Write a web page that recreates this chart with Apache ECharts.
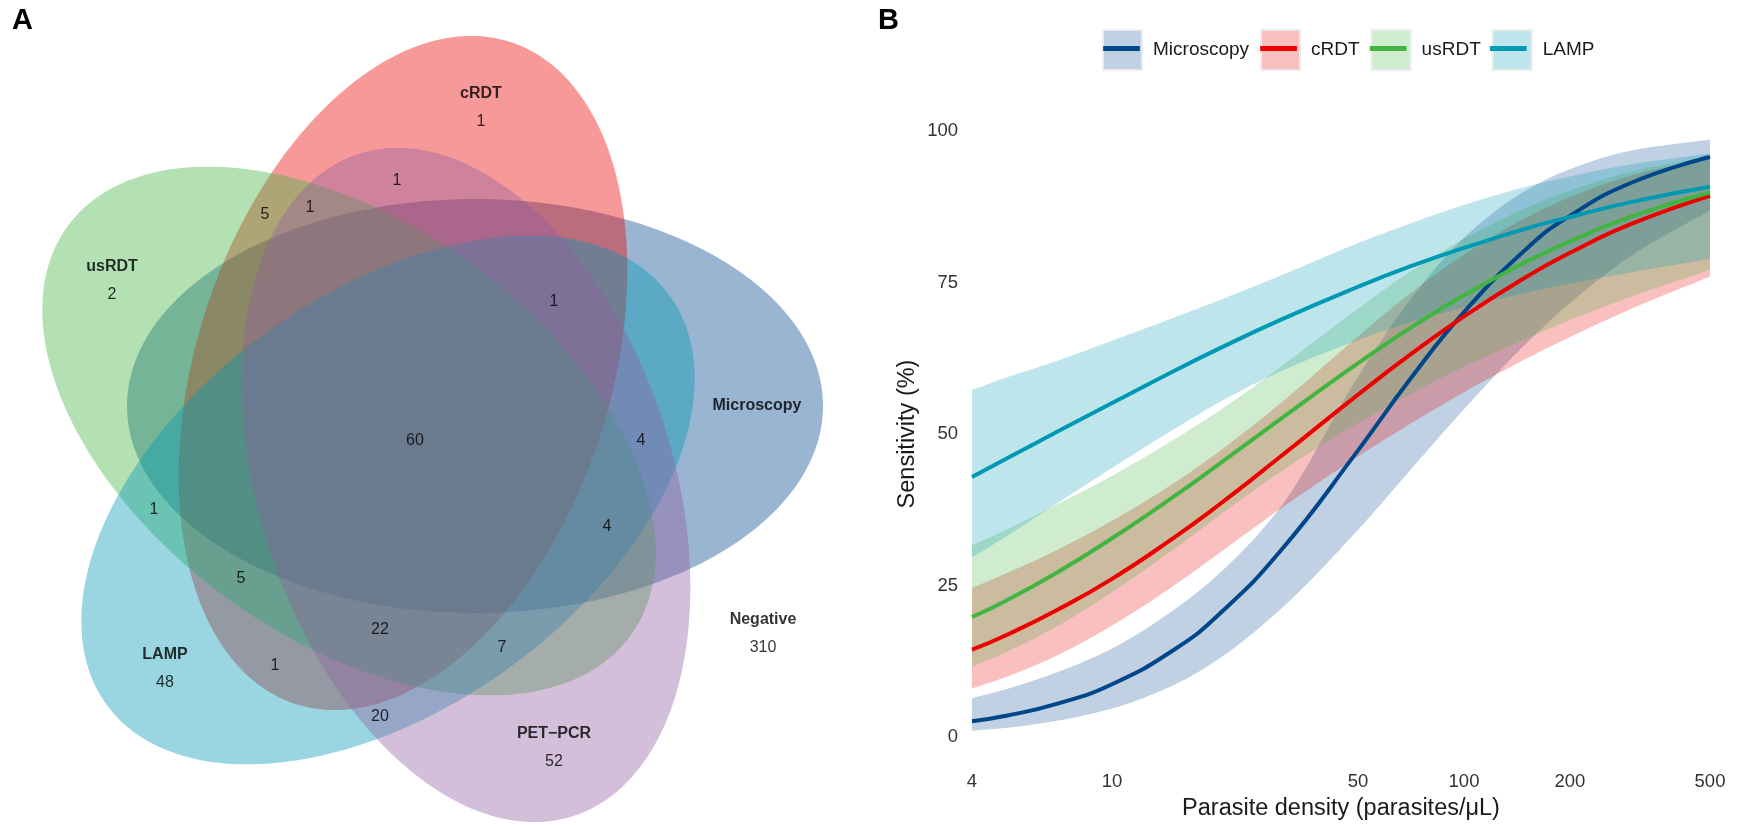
<!DOCTYPE html>
<html><head><meta charset="utf-8">
<script src="https://cdn.jsdelivr.net/npm/echarts/dist/echarts.min.js"></script>
<style>html,body{margin:0;padding:0;background:#fff}#c{width:1742px;height:825px}</style>
</head><body><div id="c"></div>
<script>
// ---------- Panel A: five-set Venn diagram ----------
const vennSets = ['Microscopy', 'cRDT', 'usRDT', 'LAMP', 'PET\u2212PCR'];
const vennColors = ['#00468B', '#ED0000', '#42B540', '#0099B4', '#925E9F'];
const ellipseCenters = [[475, 406], [403, 373], [349, 431], [388, 500], [466, 485]];
const ellipseAngles = [0, 72, 144, 216, 288];
const ellipseSemiAxes = [348, 207];
const setNames = ['Microscopy', 'cRDT', 'usRDT', 'LAMP', 'PET\u2212PCR', 'Negative'];
const setNamePos = [[757, 406], [481, 94], [112, 267], [165, 655], [554, 734], [763, 620]];
const regionCounts = [1, 2, 48, 52, 310, 60, 1, 5, 1, 1, 4, 4, 7, 22, 20, 1, 5, 1];
const regionPos = [[481, 122], [112, 295], [165, 683], [554, 762], [763, 648], [415, 441], [397, 181], [265, 215], [310, 208], [554, 302], [641, 441], [607, 527], [502, 648], [380, 630], [380, 717], [275, 666], [241, 579], [154, 510]];

// ---------- Panel B: sensitivity curves ----------
const density = [4, 5, 7, 10, 15, 20, 30, 50, 70, 100, 150, 200, 300, 500];
const methods = ['Microscopy', 'cRDT', 'usRDT', 'LAMP'];
const microFit   = [2.6, 3.5, 5.5, 8.7, 14.4, 20.1, 30.6, 47.3, 58.9, 70.1, 80.5, 86.0, 91.5, 95.7];
const microLower = [1.05, 1.5, 2.7, 4.7, 8.6, 12.8, 21.0, 34.2, 43.9, 54.1, 64.9, 71.6, 79.5, 86.9];
const microUpper = [6.4, 7.9, 10.7, 14.6, 21.0, 26.8, 37.8, 59.5, 72.0, 82.4, 90.2, 93.7, 96.8, 98.6];
const crdtFit   = [14.4, 16.8, 21.0, 26.1, 32.9, 38.2, 46.2, 56.5, 63.0, 69.4, 75.9, 79.9, 84.7, 89.3];
const crdtLower = [8.0, 9.9, 13.5, 18.4, 25.0, 30.2, 37.6, 46.3, 51.6, 56.9, 62.4, 66.0, 70.7, 76.0];
const crdtUpper = [24.6, 27.0, 30.9, 35.7, 41.9, 47.0, 55.0, 66.1, 73.1, 79.6, 85.7, 89.1, 92.7, 95.6];
const usrdtFit   = [19.8, 22.5, 27.2, 32.8, 39.7, 44.9, 52.4, 61.7, 67.4, 72.9, 78.4, 81.8, 85.9, 89.9];
const usrdtLower = [11.6, 14.0, 18.3, 23.9, 31.0, 36.4, 43.7, 51.8, 56.5, 61.1, 65.7, 68.8, 72.7, 77.1];
const usrdtUpper = [31.6, 34.2, 38.4, 43.1, 49.1, 53.7, 61.0, 70.7, 76.7, 82.2, 87.3, 90.2, 93.3, 95.9];
const lampFit   = [42.9, 45.9, 50.4, 55.1, 60.4, 64.0, 68.8, 74.3, 77.6, 80.7, 83.9, 85.8, 88.3, 90.8];
const lampLower = [29.6, 33.1, 38.6, 44.4, 50.8, 55.1, 60.3, 65.5, 68.4, 70.9, 73.3, 74.8, 76.7, 78.9];
const lampUpper = [57.3, 59.3, 62.1, 65.4, 69.2, 72.0, 76.1, 81.5, 84.7, 87.8, 90.8, 92.5, 94.5, 96.3];
const xTickValues = [4, 10, 50, 100, 200, 500];
const yTickValues = [0, 25, 50, 75, 100];

const lineColors = ['#00468B', '#ED0000', '#42B540', '#0099B4'];
const bandColors = ['rgba(0,70,139,0.25)', 'rgba(237,0,0,0.25)', 'rgba(66,181,64,0.25)', 'rgba(0,153,180,0.25)'];
const fits = [microFit, crdtFit, usrdtFit, lampFit];
const lowers = [microLower, crdtLower, usrdtLower, lampLower];
const uppers = [microUpper, crdtUpper, usrdtUpper, lampUpper];

const FONT = 'Liberation Sans, Arial, Helvetica, sans-serif';
const chart = echarts.init(document.getElementById('c'), null, {renderer: 'canvas'});

// monotone cubic smoothing of an already-projected pixel polyline (rendering only)
function smoothPixels(pts, n) {
  const N = pts.length, xs = pts.map(p => p[0]), ys = pts.map(p => p[1]);
  const d = [], m = new Array(N);
  for (let i = 0; i < N - 1; i++) d.push((ys[i + 1] - ys[i]) / (xs[i + 1] - xs[i]));
  m[0] = d[0]; m[N - 1] = d[N - 2];
  for (let i = 1; i < N - 1; i++) {
    if (d[i - 1] * d[i] <= 0) { m[i] = 0; continue; }
    const h0 = xs[i] - xs[i - 1], h1 = xs[i + 1] - xs[i];
    const w1 = 2 * h1 + h0, w2 = h1 + 2 * h0;
    m[i] = (w1 + w2) / (w1 / d[i - 1] + w2 / d[i]);
  }
  const out = [];
  for (let i = 0; i < N - 1; i++) {
    const h = xs[i + 1] - xs[i];
    for (let s = 0; s < n; s++) {
      const t = s / n, t2 = t * t, t3 = t2 * t;
      const h00 = 2 * t3 - 3 * t2 + 1, h10 = t3 - 2 * t2 + t, h01 = -2 * t3 + 3 * t2, h11 = t3 - t2;
      out.push([xs[i] + t * h, h00 * ys[i] + h10 * h * m[i] + h01 * ys[i + 1] + h11 * h * m[i + 1]]);
    }
  }
  out.push(pts[N - 1]);
  return out;
}

const series = [];
// Venn ellipses
series.push({
  type: 'custom', xAxisIndex: 0, yAxisIndex: 0, silent: true, clip: false,
  data: vennSets.map((n, i) => ({name: n, value: ellipseCenters[i]})),
  renderItem: function (params, api) {
    const i = params.dataIndex;
    const c = ellipseCenters[i];
    const phi = ellipseAngles[i] * Math.PI / 180;
    const A = ellipseSemiAxes[0], B = ellipseSemiAxes[1];
    const ux = Math.cos(phi), uy = -Math.sin(phi), vx = Math.sin(phi), vy = Math.cos(phi);
    const pts = [];
    for (let k = 0; k < 240; k++) {
      const t = k / 240 * 2 * Math.PI;
      const px = c[0] + A * Math.cos(t) * ux + B * Math.sin(t) * vx;
      const py = c[1] + A * Math.cos(t) * uy + B * Math.sin(t) * vy;
      pts.push(api.coord([px, py]));
    }
    return {type: 'polygon', shape: {points: pts}, style: {fill: vennColors[i], opacity: 0.4}};
  }
});
// Venn set names
series.push({
  type: 'scatter', xAxisIndex: 0, yAxisIndex: 0, silent: true, symbolSize: 1,
  itemStyle: {color: 'rgba(0,0,0,0)'}, z: 5,
  data: setNames.map((n, i) => ({name: n, value: setNamePos[i]})),
  label: {show: true, position: 'inside', formatter: '{b}', color: '#000',
    fontFamily: FONT, fontSize: 16, fontWeight: 'bold'}
});
// Venn region counts
series.push({
  type: 'scatter', xAxisIndex: 0, yAxisIndex: 0, silent: true, symbolSize: 1,
  itemStyle: {color: 'rgba(0,0,0,0)'}, z: 5,
  data: regionCounts.map((v, i) => ({name: String(v), value: regionPos[i]})),
  label: {show: true, position: 'inside', formatter: '{b}', color: '#000',
    fontFamily: FONT, fontSize: 16}
});

// Panel B confidence ribbons
methods.forEach((m, j) => {
  series.push({
    type: 'custom', name: m, xAxisIndex: 1, yAxisIndex: 1, silent: true, z: 1,
    itemStyle: {color: bandColors[j]},
    data: [[density[0], lowers[j][0]]],
    renderItem: function (params, api) {
      const up = smoothPixels(density.map((d, i) => api.coord([d, uppers[j][i]])), 16);
      const lo = smoothPixels(density.map((d, i) => api.coord([d, lowers[j][i]])), 16);
      return {type: 'polygon', shape: {points: up.concat(lo.reverse())},
        style: {fill: bandColors[j]}};
    }
  });
});
// Panel B fitted lines
methods.forEach((m, j) => {
  series.push({
    type: 'line', name: m, xAxisIndex: 1, yAxisIndex: 1,
    data: density.map((d, i) => [d, fits[j][i]]), smooth: true, symbol: 'none',
    lineStyle: {color: lineColors[j], width: 4}, itemStyle: {color: lineColors[j]},
    silent: true, z: 3
  });
});

const legendBase = {
  left: 1102, top: 29, itemWidth: 39, itemHeight: 40, itemGap: 11, padding: 0,
  selectedMode: false, orient: 'horizontal'
};

const option = {
  animation: false,
  backgroundColor: '#ffffff',
  title: [
    {text: 'A', left: 12, top: 6, padding: 0, textStyle: {fontFamily: FONT, fontSize: 29, fontWeight: 'bold', color: '#000'}},
    {text: 'B', left: 878, top: 6, padding: 0, textStyle: {fontFamily: FONT, fontSize: 29, fontWeight: 'bold', color: '#000'}}
  ],
  legend: [
    Object.assign({}, legendBase, {
      data: methods.map((m, j) => ({name: m, icon: 'rect',
        itemStyle: {color: bandColors[j], borderColor: '#ececec', borderWidth: 2, opacity: 1}})),
      textStyle: {fontFamily: FONT, fontSize: 19, color: '#1a1a1a', padding: [0, 0, 0, 6]}
    }),
    Object.assign({}, legendBase, {
      data: methods.map((m, j) => ({name: m,
        icon: 'path://M0,0L0,0M3,43.75L97,43.75L97,56.25L3,56.25ZM100,100L100,100',
        itemStyle: {color: lineColors[j], borderWidth: 0, opacity: 1}})),
      textStyle: {fontFamily: FONT, fontSize: 19, color: 'rgba(0,0,0,0)', padding: [0, 0, 0, 6]}
    })
  ],
  grid: [
    {left: 0, top: 0, width: 870, height: 825, outerBoundsMode: 'none'},
    {left: 972, right: 32, top: 131, bottom: 88, outerBoundsMode: 'none'}
  ],
  xAxis: [
    {type: 'value', gridIndex: 0, min: 0, max: 870, show: false},
    {type: 'log', gridIndex: 1, logBase: 10, min: 4, max: 500,
      axisLine: {show: false}, axisTick: {show: false}, splitLine: {show: false},
      axisLabel: {customValues: xTickValues, formatter: v => String(Math.round(v)), margin: 35,
        fontFamily: FONT, fontSize: 18.5, color: '#333'},
      name: 'Parasite density (parasites/\u03BCL)', nameLocation: 'middle', nameGap: 60,
      nameTextStyle: {fontFamily: FONT, fontSize: 23.5, color: '#1a1a1a'}}
  ],
  yAxis: [
    {type: 'value', gridIndex: 0, min: 0, max: 825, inverse: true, show: false},
    {type: 'value', gridIndex: 1, min: 0, max: 100, interval: 25,
      axisLine: {show: false}, axisTick: {show: false}, splitLine: {show: false},
      axisLabel: {customValues: yTickValues, margin: 14, fontFamily: FONT, fontSize: 18.5, color: '#333'},
      name: 'Sensitivity (%)', nameLocation: 'middle', nameGap: 52,
      nameTextStyle: {fontFamily: FONT, fontSize: 23.5, color: '#1a1a1a'}}
  ],
  series: series
};
chart.setOption(option);
</script></body></html>
